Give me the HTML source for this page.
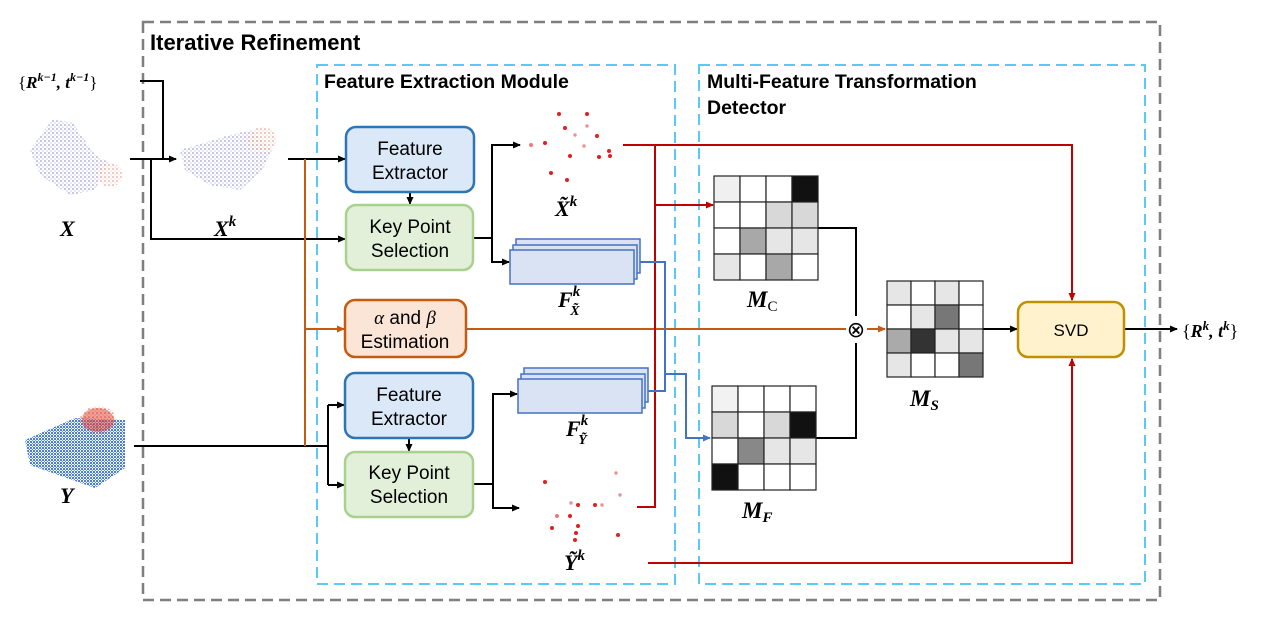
<!DOCTYPE html>
<html><head><meta charset="utf-8"><style>
html,body{margin:0;padding:0;background:#fff}
svg{display:block}
text{font-family:"Liberation Sans","DejaVu Sans",sans-serif}
.m{font-family:"Liberation Serif","DejaVu Serif",serif;font-weight:bold;font-style:italic}
</style></head><body>
<svg width="1269" height="622" viewBox="0 0 1269 622" xmlns="http://www.w3.org/2000/svg">
<defs>
<marker id="ab" markerWidth="8" markerHeight="8" refX="7" refY="4" orient="auto" markerUnits="userSpaceOnUse"><path d="M0,0.5 L8,4 L0,7.5z" fill="#000"/></marker>
<marker id="ar" markerWidth="8" markerHeight="8" refX="7" refY="4" orient="auto" markerUnits="userSpaceOnUse"><path d="M0,0.5 L8,4 L0,7.5z" fill="#c00000"/></marker>
<marker id="ao" markerWidth="8" markerHeight="8" refX="7" refY="4" orient="auto" markerUnits="userSpaceOnUse"><path d="M0,0.5 L8,4 L0,7.5z" fill="#c55a11"/></marker>
<marker id="abl" markerWidth="8" markerHeight="8" refX="7" refY="4" orient="auto" markerUnits="userSpaceOnUse"><path d="M0,0.5 L8,4 L0,7.5z" fill="#4472c4"/></marker>
<pattern id="pb" width="4" height="4" patternUnits="userSpaceOnUse"><circle cx="1" cy="1" r="0.8" fill="#5050b0"/><circle cx="3" cy="3" r="0.6" fill="#8080d0"/></pattern>
<pattern id="pr" width="4" height="4" patternUnits="userSpaceOnUse"><circle cx="1" cy="1" r="0.8" fill="#e05050"/><circle cx="3" cy="3" r="0.6" fill="#e0c060"/></pattern>
<pattern id="py" width="3" height="3" patternUnits="userSpaceOnUse"><circle cx="1" cy="1" r="1" fill="#1e50c0"/><circle cx="2.5" cy="2.5" r="0.7" fill="#40a0e0"/></pattern>
</defs>

<rect x="143" y="22" width="1017" height="578" fill="none" stroke="#7f7f7f" stroke-width="2.5" stroke-dasharray="11,6"/>
<rect x="317" y="65" width="358" height="519" fill="none" stroke="#5bc8f5" stroke-width="2" stroke-dasharray="11,6"/>
<rect x="699" y="65" width="446" height="519" fill="none" stroke="#5bc8f5" stroke-width="2" stroke-dasharray="11,6"/>
<text x="150" y="50" font-size="22" font-weight="bold">Iterative Refinement</text>
<text x="324" y="88" font-size="19.5" font-weight="bold">Feature Extraction Module</text>
<text x="707" y="88" font-size="19.5" font-weight="bold">Multi-Feature Transformation</text>
<text x="707" y="114" font-size="19.5" font-weight="bold">Detector</text>

<!-- point clouds -->
<g opacity="0.7">
<path d="M30,150 L52,120 L72,122 L95,155 L108,162 L95,190 L70,195 L40,175z" fill="url(#pb)"/>
<ellipse cx="110" cy="175" rx="12" ry="12" fill="url(#pr)"/>
<path d="M180,150 L230,135 L252,130 L272,150 L262,170 L240,190 L210,185 L185,170z" fill="url(#pb)"/>
<ellipse cx="262" cy="140" rx="14" ry="13" fill="url(#pr)"/>
</g>
<path d="M25,440 L75,418 L125,420 L125,468 L95,488 L30,465z" fill="url(#py)"/>
<ellipse cx="98" cy="420" rx="18" ry="14" fill="url(#pr)"/>
<ellipse cx="98" cy="420" rx="16" ry="12" fill="#e04030" opacity="0.5"/>

<!-- left connectors -->
<text x="18" y="88" font-size="17" class="m"><tspan font-style="normal" font-weight="normal">{</tspan>R<tspan font-size="12" dy="-7">k−1</tspan><tspan dy="7">, t</tspan><tspan font-size="12" dy="-7">k−1</tspan><tspan dy="7" font-style="normal" font-weight="normal">}</tspan></text>
<g fill="none" stroke="#000" stroke-width="2">
<polyline points="140,81 163,81 163,159" />
<line x1="130" y1="159" x2="176" y2="159" marker-end="url(#ab)"/>
<polyline points="151,159 151,239 345,239" marker-end="url(#ab)"/>
<line x1="288" y1="159" x2="345" y2="159" marker-end="url(#ab)"/>
<line x1="134" y1="446" x2="328" y2="446"/>
<polyline points="328,405 328,485"/>
<line x1="328" y1="405" x2="344" y2="405" marker-end="url(#ab)"/>
<line x1="328" y1="485" x2="344" y2="485" marker-end="url(#ab)"/>
<line x1="410" y1="192" x2="410" y2="204" marker-end="url(#ab)"/>
<line x1="409" y1="438" x2="409" y2="451" marker-end="url(#ab)"/>
<polyline points="473,238 492,238 492,145 520,145" marker-end="url(#ab)"/>
<polyline points="492,238 492,262 509,262" marker-end="url(#ab)"/>
<polyline points="473,484 493,484 493,394 517,394" marker-end="url(#ab)"/>
<polyline points="493,484 493,508 519,508" marker-end="url(#ab)"/>
<polyline points="817,228 856,228 856,316"/>
<polyline points="816,438 856,438 856,343"/>
<line x1="983" y1="329" x2="1017" y2="329" marker-end="url(#ab)"/>
<line x1="1124" y1="329" x2="1177" y2="329" marker-end="url(#ab)"/>
</g>
<text x="60" y="236" font-size="22" class="m">X</text>
<text x="214" y="236" font-size="22" class="m">X<tspan font-size="15" dy="-10">k</tspan></text>
<text x="60" y="503" font-size="22" class="m">Y</text>

<g fill="none" stroke="#c55a11" stroke-width="2">
<line x1="305" y1="159" x2="305" y2="446"/>
<line x1="305" y1="329" x2="344" y2="329" marker-end="url(#ao)"/>
<line x1="466" y1="329" x2="846" y2="329"/>
<line x1="867" y1="329" x2="885" y2="329" marker-end="url(#ao)"/>
</g>
<text x="856" y="337" font-size="22" text-anchor="middle" font-family="DejaVu Sans">⊗</text>

<rect x="346" y="127" width="128" height="65" rx="10" fill="#dae8f7" stroke="#2e75b6" stroke-width="2.5"/>
<text x="410" y="155" font-size="19" text-anchor="middle">Feature</text>
<text x="410" y="179" font-size="19" text-anchor="middle">Extractor</text>
<rect x="346" y="205" width="127" height="65" rx="10" fill="#e2f0d9" stroke="#a9d18e" stroke-width="2.5"/>
<text x="410" y="233" font-size="19" text-anchor="middle">Key Point</text>
<text x="410" y="257" font-size="19" text-anchor="middle">Selection</text>
<rect x="345" y="300" width="121" height="57" rx="10" fill="#fbe5d6" stroke="#c55a11" stroke-width="2.5"/>
<text x="405" y="324" font-size="19" text-anchor="middle"><tspan font-family="Liberation Serif" font-style="italic">α</tspan> and <tspan font-family="Liberation Serif" font-style="italic">β</tspan></text>
<text x="405" y="348" font-size="19" text-anchor="middle">Estimation</text>
<rect x="345" y="373" width="128" height="65" rx="10" fill="#dae8f7" stroke="#2e75b6" stroke-width="2.5"/>
<text x="409" y="401" font-size="19" text-anchor="middle">Feature</text>
<text x="409" y="425" font-size="19" text-anchor="middle">Extractor</text>
<rect x="345" y="452" width="128" height="65" rx="10" fill="#e2f0d9" stroke="#a9d18e" stroke-width="2.5"/>
<text x="409" y="479" font-size="19" text-anchor="middle">Key Point</text>
<text x="409" y="503" font-size="19" text-anchor="middle">Selection</text>
<rect x="1018" y="302" width="106" height="55" rx="10" fill="#fff2cc" stroke="#bf9000" stroke-width="2.5"/>
<text x="1071" y="336" font-size="17" text-anchor="middle">SVD</text>
<text x="1182" y="337" font-size="18" class="m"><tspan font-style="normal" font-weight="normal">{</tspan>R<tspan font-size="13" dy="-7">k</tspan><tspan dy="7">, t</tspan><tspan font-size="13" dy="-7">k</tspan><tspan dy="7" font-style="normal" font-weight="normal">}</tspan></text>

<g fill="#dae3f3" stroke="#4472c4" stroke-width="1.5">
<rect x="516" y="239" width="124" height="34"/>
<rect x="513" y="245" width="124" height="34"/>
<rect x="510" y="250" width="124" height="34"/>
<rect x="524" y="368" width="124" height="34"/>
<rect x="521" y="374" width="124" height="34"/>
<rect x="518" y="379" width="124" height="34"/>
</g>
<text x="558" y="307" font-size="22" class="m">F<tspan font-size="15" dy="-11">k</tspan><tspan font-size="14" dx="-10" dy="19">X̃</tspan></text>
<text x="566" y="436" font-size="22" class="m">F<tspan font-size="15" dy="-11">k</tspan><tspan font-size="14" dx="-10" dy="19">Ỹ</tspan></text>

<g fill="#e02020">
<circle cx="559" cy="114" r="2"/><circle cx="587" cy="114" r="2"/><circle cx="565" cy="128" r="2"/><circle cx="575" cy="135" r="1.7" opacity=".5"/><circle cx="587" cy="126" r="1.7" opacity=".5"/><circle cx="597" cy="136" r="2"/><circle cx="531" cy="145" r="2" opacity=".6"/><circle cx="545" cy="143" r="2"/><circle cx="584" cy="146" r="1.7" opacity=".5"/><circle cx="570" cy="156" r="2"/><circle cx="599" cy="157" r="2"/><circle cx="609" cy="151" r="2"/><circle cx="610" cy="156" r="2"/><circle cx="551" cy="173" r="2"/><circle cx="567" cy="180" r="2"/>
<circle cx="545" cy="482" r="2"/><circle cx="616" cy="473" r="1.7" opacity=".5"/><circle cx="620" cy="495" r="1.7" opacity=".5"/><circle cx="571" cy="503" r="1.7" opacity=".5"/><circle cx="578" cy="505" r="2"/><circle cx="595" cy="505" r="2"/><circle cx="602" cy="505" r="1.7" opacity=".5"/><circle cx="557" cy="516" r="2" opacity=".6"/><circle cx="570" cy="516" r="2"/><circle cx="578" cy="526" r="2"/><circle cx="552" cy="528" r="2"/><circle cx="576" cy="533" r="2"/><circle cx="618" cy="535" r="2"/><circle cx="575" cy="540" r="2"/>
</g>
<text x="555" y="216" font-size="22" class="m">X̃<tspan font-size="15" dy="-10">k</tspan></text>
<text x="564" y="570" font-size="22" class="m">Ỹ<tspan font-size="15" dy="-10">k</tspan></text>

<g fill="none" stroke="#c00000" stroke-width="2">
<polyline points="623,145 1072,145 1072,300" marker-end="url(#ar)"/>
<polyline points="637,507 655,507 655,145"/>
<line x1="655" y1="205" x2="713" y2="205" marker-end="url(#ar)"/>
<polyline points="648,563 1072,563 1072,359" marker-end="url(#ar)"/>
</g>
<g fill="none" stroke="#4472c4" stroke-width="2">
<polyline points="640,262 665,262 665,391 648,391"/>
<polyline points="665,374 686,374 686,438 710,438" marker-end="url(#abl)"/>
</g>

<g stroke="#222" stroke-width="1.2">
<g transform="translate(714,176)">
<rect x="0" y="0" width="26" height="26" fill="#f0f0f0"/><rect x="26" y="0" width="26" height="26" fill="#fff"/><rect x="52" y="0" width="26" height="26" fill="#fff"/><rect x="78" y="0" width="26" height="26" fill="#111"/>
<rect x="0" y="26" width="26" height="26" fill="#fff"/><rect x="26" y="26" width="26" height="26" fill="#fff"/><rect x="52" y="26" width="26" height="26" fill="#d8d8d8"/><rect x="78" y="26" width="26" height="26" fill="#d8d8d8"/>
<rect x="0" y="52" width="26" height="26" fill="#fff"/><rect x="26" y="52" width="26" height="26" fill="#a8a8a8"/><rect x="52" y="52" width="26" height="26" fill="#e6e6e6"/><rect x="78" y="52" width="26" height="26" fill="#e6e6e6"/>
<rect x="0" y="78" width="26" height="26" fill="#e6e6e6"/><rect x="26" y="78" width="26" height="26" fill="#fff"/><rect x="52" y="78" width="26" height="26" fill="#a8a8a8"/><rect x="78" y="78" width="26" height="26" fill="#fff"/>
</g>
<g transform="translate(712,386)">
<rect x="0" y="0" width="26" height="26" fill="#f2f2f2"/><rect x="26" y="0" width="26" height="26" fill="#fff"/><rect x="52" y="0" width="26" height="26" fill="#fff"/><rect x="78" y="0" width="26" height="26" fill="#fff"/>
<rect x="0" y="26" width="26" height="26" fill="#d8d8d8"/><rect x="26" y="26" width="26" height="26" fill="#fff"/><rect x="52" y="26" width="26" height="26" fill="#d8d8d8"/><rect x="78" y="26" width="26" height="26" fill="#111"/>
<rect x="0" y="52" width="26" height="26" fill="#fff"/><rect x="26" y="52" width="26" height="26" fill="#888"/><rect x="52" y="52" width="26" height="26" fill="#e6e6e6"/><rect x="78" y="52" width="26" height="26" fill="#e6e6e6"/>
<rect x="0" y="78" width="26" height="26" fill="#111"/><rect x="26" y="78" width="26" height="26" fill="#fff"/><rect x="52" y="78" width="26" height="26" fill="#fff"/><rect x="78" y="78" width="26" height="26" fill="#fff"/>
</g>
<g transform="translate(887,281)">
<rect x="0" y="0" width="24" height="24" fill="#e6e6e6"/><rect x="24" y="0" width="24" height="24" fill="#fff"/><rect x="48" y="0" width="24" height="24" fill="#e6e6e6"/><rect x="72" y="0" width="24" height="24" fill="#fff"/>
<rect x="0" y="24" width="24" height="24" fill="#fff"/><rect x="24" y="24" width="24" height="24" fill="#e6e6e6"/><rect x="48" y="24" width="24" height="24" fill="#777"/><rect x="72" y="24" width="24" height="24" fill="#fff"/>
<rect x="0" y="48" width="24" height="24" fill="#aaa"/><rect x="24" y="48" width="24" height="24" fill="#333"/><rect x="48" y="48" width="24" height="24" fill="#e6e6e6"/><rect x="72" y="48" width="24" height="24" fill="#e6e6e6"/>
<rect x="0" y="72" width="24" height="24" fill="#e6e6e6"/><rect x="24" y="72" width="24" height="24" fill="#fff"/><rect x="48" y="72" width="24" height="24" fill="#fff"/><rect x="72" y="72" width="24" height="24" fill="#777"/>
</g>
</g>
<text x="747" y="307" font-size="23" class="m">M<tspan font-size="15" dy="4" font-style="normal" font-weight="normal">C</tspan></text>
<text x="910" y="406" font-size="23" class="m">M<tspan font-size="15" dy="4">S</tspan></text>
<text x="742" y="518" font-size="23" class="m">M<tspan font-size="15" dy="4">F</tspan></text>
</svg>
</body></html>
